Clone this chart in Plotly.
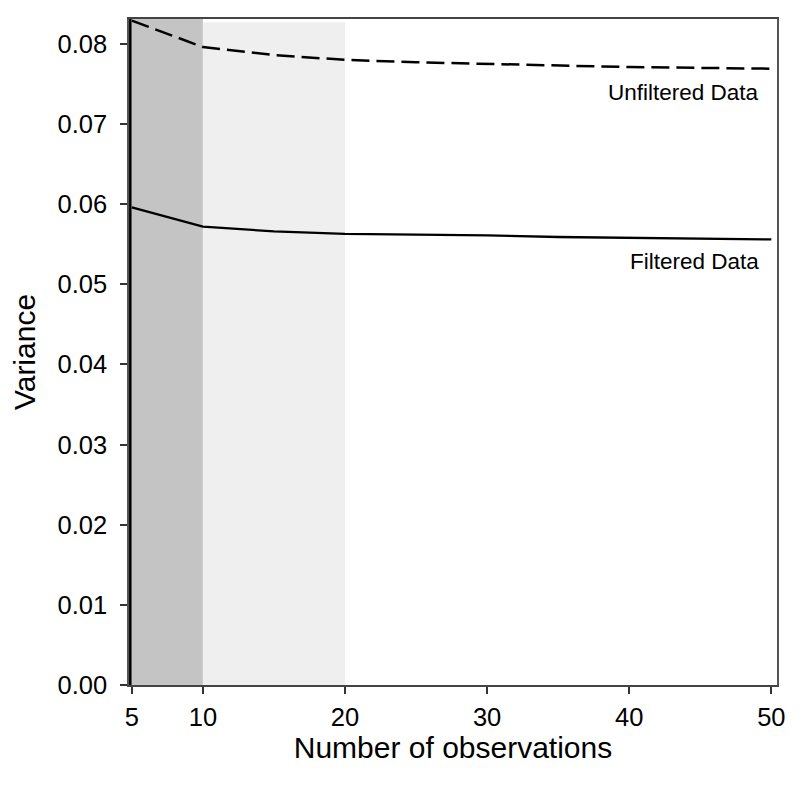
import plotly.graph_objects as go

obs = [5, 10, 15, 20, 25, 30, 35, 40, 45, 50]
unfiltered = [0.0829, 0.0796, 0.0786, 0.0780, 0.0777, 0.0775, 0.0773, 0.0771, 0.0770, 0.0769]
filtered = [0.0596, 0.0572, 0.0566, 0.0563, 0.0562, 0.0561, 0.0559, 0.0558, 0.0557, 0.0556]
x_ticks = [5, 10, 20, 30, 40, 50]
y_ticks = [0.00, 0.01, 0.02, 0.03, 0.04, 0.05, 0.06, 0.07, 0.08]
dark_band = [4.8, 10]
light_band = [10, 20]
y_top = 0.0831

font = "Liberation Sans, Arial, Helvetica, sans-serif"

fig = go.Figure()
fig.add_shape(type="rect", xref="x", yref="y", x0=dark_band[0], x1=dark_band[1], y0=0, y1=y_top,
              fillcolor="#c4c4c4", line_width=0, layer="below")
fig.add_shape(type="rect", xref="x", yref="y", x0=light_band[0], x1=light_band[1], y0=0, y1=0.0827,
              fillcolor="#efefef", line_width=0, layer="below")
fig.add_trace(go.Scatter(x=obs, y=unfiltered, mode="lines",
                         line=dict(color="black", width=2.5, dash="18px,7px"), showlegend=False))
fig.add_trace(go.Scatter(x=obs, y=filtered, mode="lines",
                         line=dict(color="black", width=2.3), showlegend=False))
fig.add_annotation(x=49.3, y=unfiltered[-1] - 0.0030, xref="x", yref="y", text="Unfiltered Data",
                   showarrow=False, xanchor="right", yanchor="middle",
                   font=dict(family=font, size=22.5, color="black"))
fig.add_annotation(x=49.3, y=filtered[-1] - 0.0028, xref="x", yref="y", text="Filtered Data",
                   showarrow=False, xanchor="right", yanchor="middle",
                   font=dict(family=font, size=22.5, color="black"))
# left axis black line
fig.add_shape(type="line", xref="paper", yref="paper", x0=0.002, x1=0.002, y0=0, y1=1,
              line=dict(color="black", width=2.5))

fig.update_layout(
    width=800, height=785,
    margin=dict(l=121, r=31, t=9, b=108),
    plot_bgcolor="white", paper_bgcolor="white",
    font=dict(family=font, color="black"),
    xaxis=dict(range=[4.8, 50.4], tickvals=x_ticks, ticktext=[str(t) for t in x_ticks],
               showgrid=False, zeroline=False, showline=True, linecolor="#444", linewidth=1.5,
               mirror=True, ticks="outside", ticklen=7, tickwidth=1.5, tickcolor="#333",
               ticklabelstandoff=2,
               tickfont=dict(size=25.5), title=dict(text="Number of observations", font=dict(size=30), standoff=5)),
    yaxis=dict(range=[0, y_top], tickvals=y_ticks, ticktext=[f"{t:.2f}" for t in y_ticks],
               showgrid=False, zeroline=False, showline=True, linecolor="#555", linewidth=1.5,
               mirror=True, ticks="outside", ticklen=7, tickwidth=1.5, tickcolor="#333",
               ticklabelstandoff=8,
               tickfont=dict(size=25.5), title=dict(text="Variance", font=dict(size=30), standoff=13)),
)
fig.write_html("out.html")
